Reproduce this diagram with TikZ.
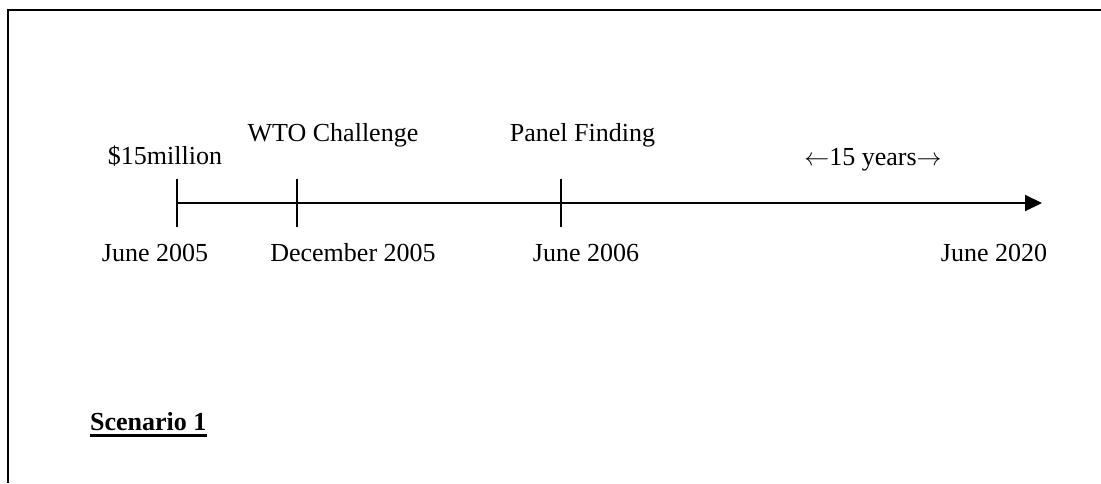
\documentclass[tikz,border=0pt]{standalone}
\usepackage{fontspec}
\setmainfont{Liberation Serif}
\usetikzlibrary{arrows.meta}
\tikzset{
  lbl/.style={anchor=base, inner sep=0pt, font=\fontsize{26}{31}\selectfont},
  tick/.style={line width=1.6pt},
  axis/.style={line width=2pt, -{Triangle[length=17pt,width=16pt]}},
  frame/.style={line width=2pt}
}
\begin{document}
\begin{tikzpicture}[x=1pt,y=-1pt]
\useasboundingbox (0,0) rectangle (1101,483);
% frame (open at right and bottom)
\coordinate (fbl) at (8,483);
\coordinate (ftl) at (8,10);
\coordinate (ftr) at (1101,10);
\draw[frame] (fbl) -- (ftl) -- (ftr);
% timeline
\coordinate (t0) at (177,203);
\coordinate (t1) at (297,203);
\coordinate (t2) at (561,203);
\coordinate (tend) at (1042,203);
\draw[axis] (t0) -- (tend);
\foreach \t in {t0,t1,t2}
  \draw[tick] ([yshift=24pt]\t) -- ([yshift=-24pt]\t);
% labels above
\node[lbl] (l15m) at (165,164) {\$15million};
\node[lbl] (lwto) at (333,141) {WTO Challenge};
\node[lbl] (lpan) at (582.5,141) {Panel Finding};
\node[lbl] (l15y) at (873,165) {$\leftarrow$15 years$\rightarrow$};
% labels below
\node[lbl] (d0) at (155,261) {June 2005};
\node[lbl] (d1) at (353,261) {December 2005};
\node[lbl] (d2) at (586,261) {June 2006};
\node[lbl] (d3) at (994,261) {June 2020};
% scenario
\node[lbl, anchor=base west, font=\fontsize{26}{31}\selectfont\bfseries] (sc) at (90,430) {Scenario 1};
\draw[line width=2.6pt] ([yshift=-5.5pt]sc.base west) -- ([yshift=-5.5pt]sc.base east);
\end{tikzpicture}
\end{document}
